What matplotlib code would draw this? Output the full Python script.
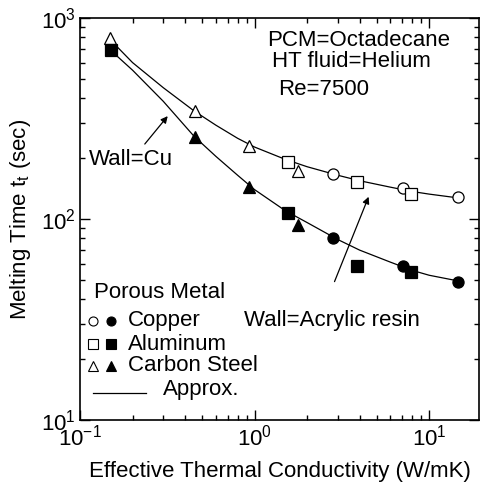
import numpy as np
import matplotlib
matplotlib.use("Agg")
import matplotlib.pyplot as plt

plt.rcParams["font.family"] = ["Liberation Sans", "DejaVu Sans"]
plt.rcParams["mathtext.fontset"] = "custom"
plt.rcParams["mathtext.rm"] = "Liberation Sans"
plt.rcParams["mathtext.it"] = "Liberation Sans"
plt.rcParams["font.size"] = 16


#####################
### Data
#####################
# open symbols : Wall=Acrylic resin, filled symbols : Wall=Cu
cu_open_k = [2.83, 7.1, 14.7]
cu_open_t = [167, 142, 128]
cu_fill_k = [2.83, 7.1, 14.7]
cu_fill_t = [80, 58.3, 48.8]

al_open_k = [1.56, 3.85, 7.85]
al_open_t = [193, 152, 133]
al_fill_k = [0.15, 1.56, 3.85, 7.85]
al_fill_t = [693, 107, 58.3, 54.3]

cs_open_k = [0.148, 0.454, 0.925, 1.77]
cs_open_t = [793, 344, 232, 174]
cs_fill_k = [0.454, 0.925, 1.77]
cs_fill_t = [256, 145, 93]

# approximation curves
fit_k = [0.15, 0.2, 0.3, 0.45, 0.6, 0.8, 1.0, 1.5, 2.0, 3.0, 4.0, 6.0, 8.0, 10.0, 15.0]
fit_acryl_t = [775, 600, 450, 345, 293, 252, 228, 198, 182, 165, 155, 144, 137, 133, 127]
fit_cu_t = [690, 550, 385, 258, 205, 165, 140, 110, 96, 79, 70, 61, 55.5, 52.5, 49]


#####################
### Plot
#####################
fig = plt.figure(figsize=(4.86, 4.86), dpi=100)
ax = fig.add_axes([80/486, 1-420/486, 399/486, 402/486])

ax.plot(fit_k, fit_acryl_t, "-", color="black", lw=0.9, zorder=1)
ax.plot(fit_k, fit_cu_t, "-", color="black", lw=0.9, zorder=1)

ms = 8
op = dict(linestyle="none", mfc="white", mec="black", mew=0.9, ms=ms, zorder=3)
fp = dict(linestyle="none", mfc="black", mec="black", mew=0.9, ms=ms, zorder=3)
ax.plot(cu_open_k, cu_open_t, "o", **op)
ax.plot(al_open_k, al_open_t, "s", **op)
ax.plot(cs_open_k, cs_open_t, "^", **dict(op, ms=ms+1))
ax.plot(cu_fill_k, cu_fill_t, "o", **fp)
ax.plot(al_fill_k, al_fill_t, "s", **fp)
ax.plot(cs_fill_k, cs_fill_t, "^", **dict(fp, ms=ms+1))

ax.set_xscale("log")
ax.set_yscale("log")
ax.set_xlim(0.1, 19.3)
ax.set_ylim(10, 1000)

ax.tick_params(which="both", direction="in", top=True, right=True, width=1.0)
ax.tick_params(which="major", length=7, labelsize=16, pad=3)
ax.tick_params(which="minor", length=3.5)
for s in ax.spines.values():
    s.set_linewidth(1.2)

ax.set_xlabel("Effective Thermal Conductivity (W/mK)", fontsize=16, labelpad=8)
ax.set_ylabel("Melting Time t$_{\\mathrm{t}}$ (sec)", fontsize=16, labelpad=6)

# conditions
tr = ax.transAxes
ax.text(0.469, 0.945, "PCM=Octadecane", transform=tr, va="center", ha="left")
ax.text(0.481, 0.891, "HT fluid=Helium", transform=tr, va="center", ha="left")
ax.text(0.496, 0.821, "Re=7500", transform=tr, va="center", ha="left")

# wall labels with arrows
ax.text(0.023, 0.647, "Wall=Cu", transform=tr, va="center", ha="left")
ax.annotate("", xy=(0.318, 325), xytext=(0.235, 236),
            arrowprops=dict(arrowstyle="-|>", color="black", lw=0.9,
                            mutation_scale=10, shrinkA=0, shrinkB=0))
ax.text(0.412, 0.247, "Wall=Acrylic resin", transform=tr, va="center", ha="left")
ax.annotate("", xy=(4.5, 129), xytext=(2.87, 48.8),
            arrowprops=dict(arrowstyle="-|>", color="black", lw=0.9,
                            mutation_scale=10, shrinkA=0, shrinkB=0))

# legend block
ax.text(0.035, 0.318, "Porous Metal", transform=tr, va="center", ha="left")
rows = [("o", "Copper", 0.247), ("s", "Aluminum", 0.189), ("^", "Carbon Steel", 0.135)]
for mk, name, yy in rows:
    ax.plot([0.033], [yy], mk, transform=tr, mfc="white", mec="black", mew=0.8, ms=6.5, clip_on=False)
    ax.plot([0.078], [yy], mk, transform=tr, mfc="black", mec="black", mew=0.8, ms=6.5, clip_on=False)
    ax.text(0.120, yy, name, transform=tr, va="center", ha="left")
ax.plot([0.033, 0.165], [0.068, 0.068], "-", color="black", lw=0.9, transform=tr)
ax.text(0.209, 0.075, "Approx.", transform=tr, va="center", ha="left")

plt.savefig("out.png", dpi=100)
